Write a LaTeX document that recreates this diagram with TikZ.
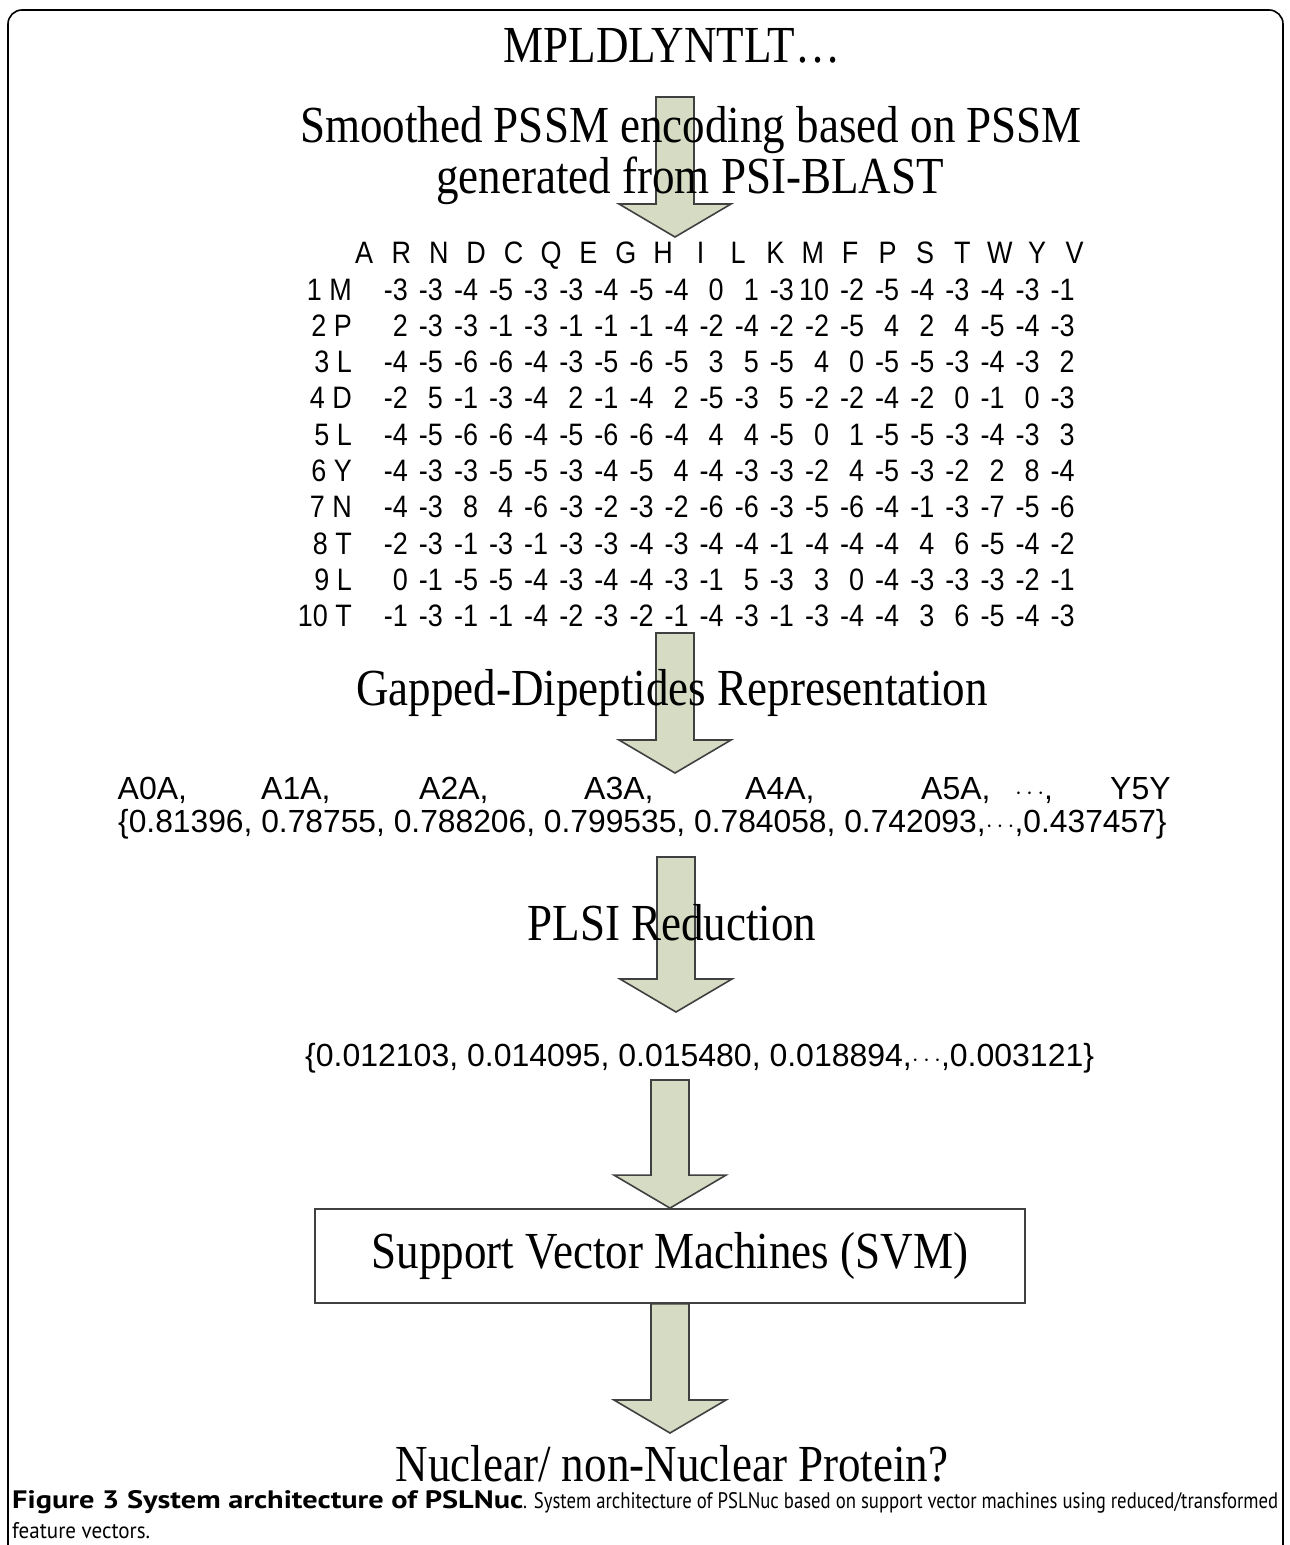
\documentclass[tikz,border=0pt]{standalone}
\usepackage{graphicx}
\usepackage{fontspec}
\setmainfont{Liberation Serif}
\newfontfamily\arialf{Liberation Sans}
\newfontfamily\capf{PT Sans}
\usetikzlibrary{calc}
\definecolor{arrfill}{RGB}{214,220,196}
\definecolor{arrline}{RGB}{64,64,64}
\newcommand\blockarr[2]{%
  \draw[blockarrow] ($(#1)+(-19,0)$) -- ($(#2)+(-19,-33)$) -- ($(#2)+(-56,-33)$) -- (#2)
    -- ($(#2)+(56,-33)$) -- ($(#2)+(19,-33)$) -- ($(#1)+(19,0)$) -- cycle;}
\newcommand\bigtxt[1]{\scalebox{0.866}[1]{#1}}
\newcommand\mtxt[1]{\scalebox{0.87}[1]{#1}}
\begin{document}
\begin{tikzpicture}[x=1pt,y=-1pt,
  big/.style={inner sep=0pt, font=\fontsize{52}{58}\selectfont, anchor=base},
  mat/.style={inner sep=0pt, font=\arialf\fontsize{31}{36}\selectfont},
  hdr/.style={mat, anchor=base},
  val/.style={mat, anchor=base east},
  vec/.style={inner sep=0pt, font=\arialf\fontsize{32}{36}\selectfont, anchor=base west},
  blockarrow/.style={fill=arrfill, draw=arrline, line width=1.6pt, line join=miter},
  outerframe/.style={draw=black, line width=1.6pt, rounded corners=14pt},
  svmbox/.style={draw=arrline, line width=1.8pt, fill=white, minimum width=710pt, minimum height=94pt, inner sep=0pt},
  captext/.style={inner sep=0pt, font=\capf\fontsize{21}{31}\selectfont, anchor=base west}
]
\useasboundingbox (0,0) rectangle (1290,1545);
\fill[white] (0,0) rectangle (1290,1545);
\draw[outerframe] (8,1570) -- (8,10) -- (1283,10) -- (1283,1570);

% arrow coordinates
\coordinate (a1s) at (675,97);  \coordinate (a1e) at (675,237);
\coordinate (a2s) at (675,633); \coordinate (a2e) at (675,773);
\coordinate (a3s) at (676,857); \coordinate (a3e) at (676,1012);
\coordinate (a4s) at (670,1080);
\coordinate (a5e) at (670,1433);

\node[svmbox] (svm) at (670,1256) {};

\blockarr{a1s}{a1e}
\blockarr{a2s}{a2e}
\blockarr{a3s}{a3e}
\blockarr{a4s}{svm.north}
\blockarr{svm.south}{a5e}

% texts
\node[big] (seq) at (672,62) {\bigtxt{MPLDLYNTLT…}};
\node[big] (smooth1) at (691,142) {\bigtxt{Smoothed PSSM encoding based on PSSM}};
\node[big] (smooth2) at (690,193) {\bigtxt{generated from PSI-BLAST}};

% PSSM matrix
\foreach \h [count=\c] in {A,R,N,D,C,Q,E,G,H,I,L,K,M,F,P,S,T,W,Y,V}
  \node[hdr] (h\c) at ({364+37.4*(\c-1)},263) {\mtxt{\h}};
\foreach \lab [count=\r] in {1 M,2 P,3 L,4 D,5 L,6 Y,7 N,8 T,9 L,10 T}
  \node[mat, anchor=base east] (lab\r) at (352,{300+36.3*(\r-1)}) {\mtxt{\lab}};
\foreach \v [count=\c] in {-3,-3,-4,-5,-3,-3,-4,-5,-4,0,1,-3,10,-2,-5,-4,-3,-4,-3,-1}
  \node[val] (m1c\c) at ({408+35.1*(\c-1)},300) {\mtxt{\v}};
\foreach \v [count=\c] in {2,-3,-3,-1,-3,-1,-1,-1,-4,-2,-4,-2,-2,-5,4,2,4,-5,-4,-3}
  \node[val] (m2c\c) at ({408+35.1*(\c-1)},336.3) {\mtxt{\v}};
\foreach \v [count=\c] in {-4,-5,-6,-6,-4,-3,-5,-6,-5,3,5,-5,4,0,-5,-5,-3,-4,-3,2}
  \node[val] (m3c\c) at ({408+35.1*(\c-1)},372.6) {\mtxt{\v}};
\foreach \v [count=\c] in {-2,5,-1,-3,-4,2,-1,-4,2,-5,-3,5,-2,-2,-4,-2,0,-1,0,-3}
  \node[val] (m4c\c) at ({408+35.1*(\c-1)},408.9) {\mtxt{\v}};
\foreach \v [count=\c] in {-4,-5,-6,-6,-4,-5,-6,-6,-4,4,4,-5,0,1,-5,-5,-3,-4,-3,3}
  \node[val] (m5c\c) at ({408+35.1*(\c-1)},445.2) {\mtxt{\v}};
\foreach \v [count=\c] in {-4,-3,-3,-5,-5,-3,-4,-5,4,-4,-3,-3,-2,4,-5,-3,-2,2,8,-4}
  \node[val] (m6c\c) at ({408+35.1*(\c-1)},481.5) {\mtxt{\v}};
\foreach \v [count=\c] in {-4,-3,8,4,-6,-3,-2,-3,-2,-6,-6,-3,-5,-6,-4,-1,-3,-7,-5,-6}
  \node[val] (m7c\c) at ({408+35.1*(\c-1)},517.8) {\mtxt{\v}};
\foreach \v [count=\c] in {-2,-3,-1,-3,-1,-3,-3,-4,-3,-4,-4,-1,-4,-4,-4,4,6,-5,-4,-2}
  \node[val] (m8c\c) at ({408+35.1*(\c-1)},554.1) {\mtxt{\v}};
\foreach \v [count=\c] in {0,-1,-5,-5,-4,-3,-4,-4,-3,-1,5,-3,3,0,-4,-3,-3,-3,-2,-1}
  \node[val] (m9c\c) at ({408+35.1*(\c-1)},590.4) {\mtxt{\v}};
\foreach \v [count=\c] in {-1,-3,-1,-1,-4,-2,-3,-2,-1,-4,-3,-1,-3,-4,-4,3,6,-5,-4,-3}
  \node[val] (m10c\c) at ({408+35.1*(\c-1)},626.7) {\mtxt{\v}};

\node[big] (gap) at (672,705) {\bigtxt{Gapped-Dipeptides Representation}};

% dipeptide names and values
\node[vec] (d0) at (117.5,799) {A0A,};
\node[vec] (d1) at (261,799) {A1A,};
\node[vec] (d2) at (419,799) {A2A,};
\node[vec] (d3) at (584,799) {A3A,};
\node[vec] (d4) at (745,799) {A4A,};
\node[vec] (d5) at (921,799) {A5A,};
\node[vec] (ddots) at (1015,799) {$\cdots$,};
\node[vec] (dY) at (1110,799) {Y5Y};
\node[vec] (vals1) at (118,832) {\scalebox{0.993}[1]{\{0.81396, 0.78755, 0.788206, 0.799535, 0.784058, 0.742093,$\cdots$,0.437457\}}};

\node[big] (plsi) at (672,940) {\bigtxt{PLSI Reduction}};
\node[vec] (vals2) at (305,1066) {\{0.012103, 0.014095, 0.015480, 0.018894,$\cdots$,0.003121\}};

\node[font=\fontsize{52}{58}\selectfont, inner sep=0pt] (svmtext) at (svm.center) {\bigtxt{Support Vector Machines (SVM)}};

\node[big] (out) at (672,1481) {\bigtxt{Nuclear/ non-Nuclear Protein?}};

% caption
\node[captext] (cap1) at (12,1508) {\resizebox{511pt}{18pt}{\textbf{Figure 3 System architecture of PSLNuc}}\resizebox{755pt}{16pt}{. System architecture of PSLNuc based on support vector machines using reduced/transformed}};
\node[captext] (cap2) at (12,1538) {\resizebox{138pt}{16pt}{feature vectors.}};
\end{tikzpicture}
\end{document}
